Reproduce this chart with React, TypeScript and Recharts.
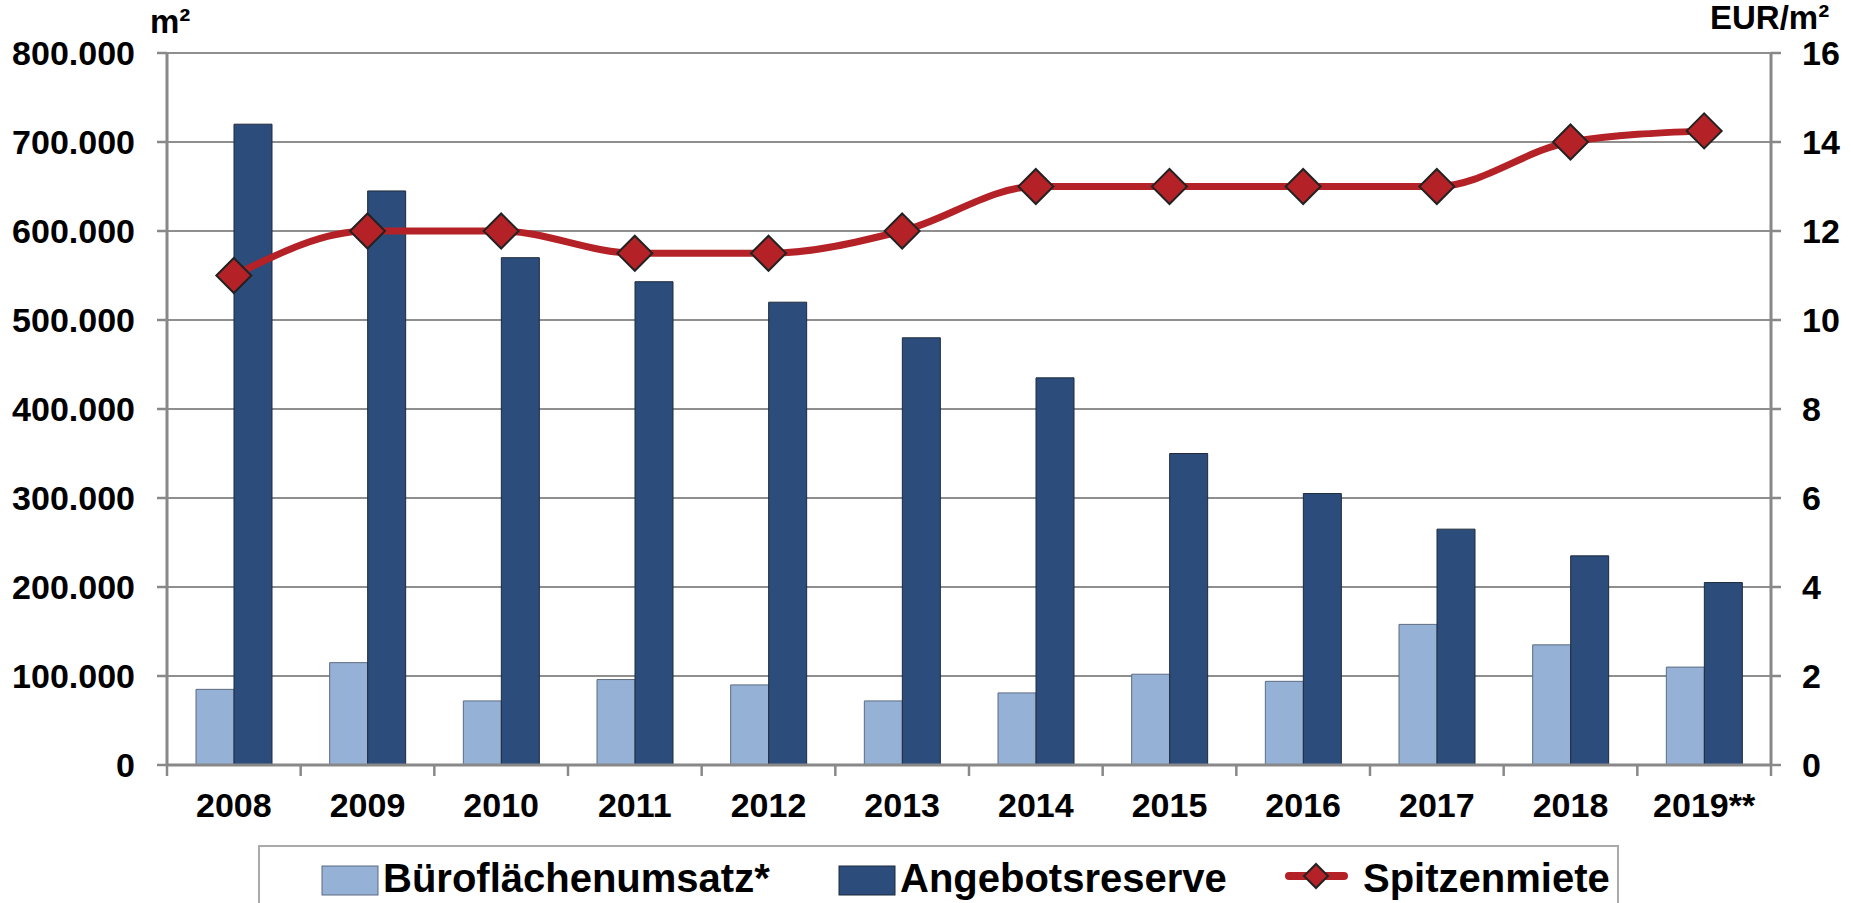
import React from 'react';
import { ComposedChart, Bar, Line, XAxis, YAxis, CartesianGrid, Legend } from 'recharts';

const years = ['2008', '2009', '2010', '2011', '2012', '2013', '2014', '2015', '2016', '2017', '2018', '2019**'];
const bueroflaechenumsatz = [85000, 115000, 72000, 96000, 90000, 72000, 81000, 102000, 94000, 158000, 135000, 110000];
const angebotsreserve = [720000, 645000, 570000, 543000, 520000, 480000, 435000, 350000, 305000, 265000, 235000, 205000];
const spitzenmiete = [11, 12, 12, 11.5, 11.5, 12, 13, 13, 13, 13, 14, 14.25];
const leftTicks = [0, 100000, 200000, 300000, 400000, 500000, 600000, 700000, 800000];
const rightTicks = [0, 2, 4, 6, 8, 10, 12, 14, 16];
const seriesNames = ['Büroflächenumsatz*', 'Angebotsreserve', 'Spitzenmiete'];

const data = years.map((y, i) => ({
  year: y,
  umsatz: bueroflaechenumsatz[i],
  reserve: angebotsreserve[i],
  miete: spitzenmiete[i],
}));

const W = 1853;
const H = 903;
const LEFT_W = 167;
const RIGHT_W = 82;
const BAND = (W - LEFT_W - RIGHT_W) / years.length;

const FONT = "'Liberation Sans', Arial, Helvetica, sans-serif";
const AXIS = '#888888';
const GRID = '#8f8f8f';
const LIGHT = '#95B1D6';
const DARK = '#2C4C7C';
const RED = '#B42227';
const TICK_FS = 34;

const fmt = (v: number) => String(v).replace(/\B(?=(\d{3})+(?!\d))/g, '.');

const XTick = (props: any) => {
  const { x, y, payload, index } = props;
  const half = BAND / 2;
  return (
    <g>
      <line x1={x + half} x2={x + half} y1={y} y2={y + 11} stroke={AXIS} strokeWidth={2.5} />
      {index === 0 && <line x1={x - half} x2={x - half} y1={y} y2={y + 11} stroke={AXIS} strokeWidth={2.5} />}
      <text x={x} y={y + 52} textAnchor="middle" fontFamily={FONT} fontWeight="bold" fontSize={TICK_FS} fill="#000">
        {payload.value}
      </text>
    </g>
  );
};

const Diamond = (props: any) => {
  const { cx, cy } = props;
  if (cx == null || cy == null) return null;
  const r = 17.5;
  return (
    <path
      d={`M${cx},${cy - r} L${cx + r},${cy} L${cx},${cy + r} L${cx - r},${cy} Z`}
      fill={RED}
      stroke="#222"
      strokeWidth={2}
    />
  );
};

const renderLegend = () => (
  <svg width={1361} height={58} style={{ overflow: 'visible', display: 'block' }}>
    <path d="M1,58 V1 H1360 V58" fill="#fff" stroke="#aaaaaa" strokeWidth={2} />
    <rect x={64} y={21} width={56} height={29} fill={LIGHT} stroke="#5d6b80" strokeWidth={1} />
    <text x={125} y={47} fontFamily={FONT} fontWeight="bold" fontSize={40} fill="#000">{seriesNames[0]}</text>
    <rect x={581} y={21} width={56} height={29} fill={DARK} stroke="#1e2a3a" strokeWidth={1} />
    <text x={642} y={47} fontFamily={FONT} fontWeight="bold" fontSize={40} fill="#000">{seriesNames[1]}</text>
    <line x1={1031} x2={1086} y1={31} y2={31} stroke={RED} strokeWidth={8} strokeLinecap="round" />
    <path d="M1058,19 L1070,31 L1058,43 L1046,31 Z" fill={RED} stroke="#222" strokeWidth={2} />
    <text x={1105} y={47} fontFamily={FONT} fontWeight="bold" fontSize={40} fill="#000">{seriesNames[2]}</text>
  </svg>
);

export default function App() {
  return (
    <div style={{ position: 'absolute', left: 0, top: 0, width: W, height: H, overflow: 'hidden', background: '#fff' }}>
      <ComposedChart
        width={W}
        height={H}
        data={data}
        margin={{ top: 53, right: 0, bottom: 58, left: 0 }}
        barGap={0}
      >
        <CartesianGrid yAxisId="left" vertical={false} stroke={GRID} strokeWidth={2} />
        <XAxis
          dataKey="year"
          height={80}
          tick={<XTick />}
          tickLine={false}
          tickSize={0}
          tickMargin={0}
          interval={0}
          axisLine={{ stroke: AXIS, strokeWidth: 3 }}
        />
        <YAxis
          yAxisId="left"
          orientation="left"
          width={LEFT_W}
          domain={[0, 800000]}
          ticks={leftTicks}
          interval={0}
          tickFormatter={fmt}
          tickSize={10}
          tickMargin={22}
          tickLine={{ stroke: AXIS, strokeWidth: 2.5 }}
          axisLine={{ stroke: AXIS, strokeWidth: 3 }}
          tick={{ fontFamily: FONT, fontWeight: 'bold', fontSize: TICK_FS, fill: '#000' }}
          label={() => (
            <text x={150} y={33} fontFamily={FONT} fontWeight="bold" fontSize={33} fill="#000">m²</text>
          )}
        />
        <YAxis
          yAxisId="right"
          orientation="right"
          width={RIGHT_W}
          domain={[0, 16]}
          ticks={rightTicks}
          interval={0}
          tickSize={10}
          tickMargin={21}
          tickLine={{ stroke: AXIS, strokeWidth: 2.5 }}
          axisLine={{ stroke: AXIS, strokeWidth: 3 }}
          tick={{ fontFamily: FONT, fontWeight: 'bold', fontSize: TICK_FS, fill: '#000' }}
          label={() => (
            <text x={1710} y={29} fontFamily={FONT} fontWeight="bold" fontSize={33} fill="#000">EUR/m²</text>
          )}
        />
        <Bar
          yAxisId="left"
          dataKey="umsatz"
          name={seriesNames[0]}
          barSize={38}
          fill={LIGHT}
          stroke="#5d6b80"
          strokeWidth={1}
          isAnimationActive={false}
        />
        <Bar
          yAxisId="left"
          dataKey="reserve"
          name={seriesNames[1]}
          barSize={38}
          fill={DARK}
          stroke="#1e2a3a"
          strokeWidth={1}
          isAnimationActive={false}
        />
        <Line
          yAxisId="right"
          dataKey="miete"
          name={seriesNames[2]}
          type="monotone"
          stroke={RED}
          strokeWidth={7}
          dot={<Diamond />}
          activeDot={false}
          isAnimationActive={false}
        />
        <Legend
          layout="horizontal"
          verticalAlign="middle"
          align="center"
          wrapperStyle={{ left: 258, top: 845, width: 1361, height: 58 }}
          content={renderLegend}
        />
      </ComposedChart>
    </div>
  );
}
